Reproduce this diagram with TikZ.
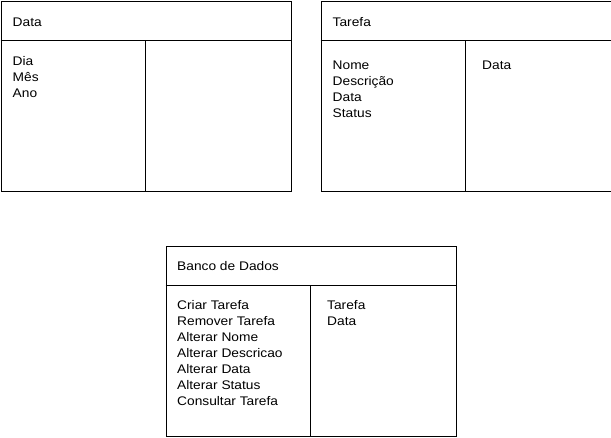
\documentclass[tikz,border=0pt]{standalone}
\usepackage{fontspec}
\setmainfont{Liberation Sans}[FakeStretch=1.1]
\begin{document}
\begin{tikzpicture}[x=1pt,y=-1pt,
  box/.style={draw=black,line width=1pt,rectangle,inner sep=0pt,anchor=north west,minimum width=290pt,minimum height=190pt},
  rule/.style={draw=black,line width=1pt},
  head/.style={anchor=base west,inner sep=0pt,font=\fontsize{12.5}{16}\selectfont},
  body/.style={anchor=north west,inner sep=0pt,align=left,font=\fontsize{12.5}{16}\selectfont}]
\useasboundingbox (0,0) rectangle (611,437);
% Box Data
\node[box] (d) at (0.5,0.5) {};
\coordinate (dhl) at (0.5,40.5);
\coordinate (dhr) at (290.5,40.5);
\draw[rule] (dhl) -- (dhr);
\coordinate (dvt) at (145.5,40.5);
\draw[rule] (dvt) -- (dvt |- d.south);
\node[head] (dt) at (12.5,26) {Data};
\node[body] (db) at (12.5,55) {\rule{0pt}{10pt}Dia\\Mês\\Ano};
% Box Tarefa
\node[box] (t) at (320.5,0.5) {};
\coordinate (thl) at (320.5,40.5);
\coordinate (thr) at (610.5,40.5);
\draw[rule] (thl) -- (thr);
\coordinate (tvt) at (465.5,40.5);
\draw[rule] (tvt) -- (tvt |- t.south);
\node[head] (tt) at (332.5,26) {Tarefa};
\node[body] (tb) at (332.5,59) {\rule{0pt}{10pt}Nome\\Descrição\\Data\\Status};
\node[body] (tr) at (482,59) {\rule{0pt}{10pt}Data};
% Box Banco de Dados
\node[box] (b) at (165.5,245.5) {};
\coordinate (bhl) at (165.5,285.5);
\coordinate (bhr) at (455.5,285.5);
\draw[rule] (bhl) -- (bhr);
\coordinate (bvt) at (310.5,285.5);
\draw[rule] (bvt) -- (bvt |- b.south);
\node[head] (bt) at (177,270.5) {Banco de Dados};
\node[body] (bb) at (177,299) {\rule{0pt}{10pt}Criar Tarefa\\Remover Tarefa\\Alterar Nome\\Alterar Descricao\\Alterar Data\\Alterar Status\\Consultar Tarefa};
\node[body] (br) at (327,299) {\rule{0pt}{10pt}Tarefa\\Data};
\end{tikzpicture}
\end{document}
